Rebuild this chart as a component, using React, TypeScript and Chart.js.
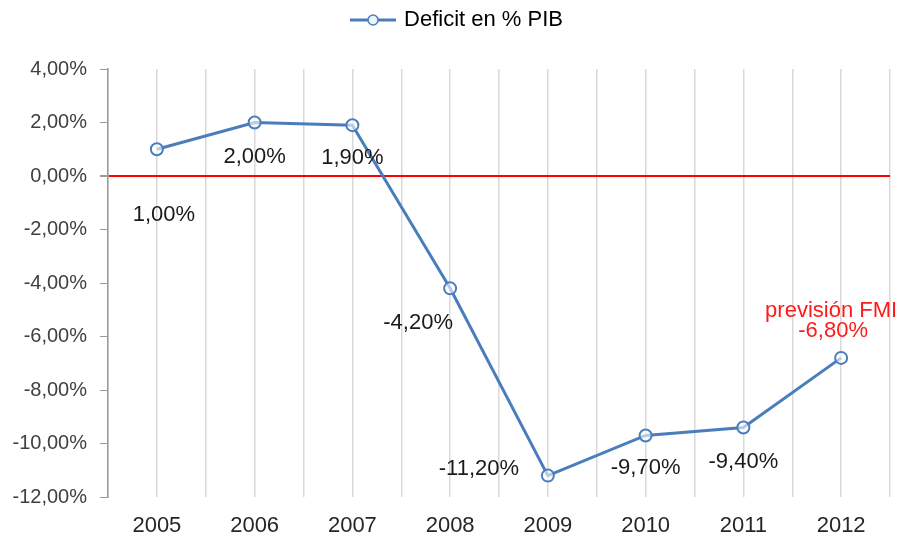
import React, { useEffect, useRef } from "react";
import { Chart, registerables } from "chart.js";

Chart.register(...registerables);

const categories = ["2005", "2006", "2007", "2008", "2009", "2010", "2011", "2012"];
const deficitValues = [1.0, 2.0, 1.9, -4.2, -11.2, -9.7, -9.4, -6.8];
const seriesLabel = "Deficit en % PIB";
const forecastNote = "previsión FMI";
const yMin = -12;
const yMax = 4;
const yStep = 2;

// label offsets (style, relative to each point)
const labelOffsets: [number, number][] = [
  [7, 66],
  [0, 34],
  [0, 33],
  [-32, 35],
  [-69, -7],
  [0, 32],
  [0, 34],
  [-8, -27],
];

const FONT = "'Liberation Sans', Arial, sans-serif";
const BLUE = "#4a7dbb";

const fmt = (v: number) => v.toFixed(2).replace(".", ",") + "%";

function makeLegendImage(): HTMLCanvasElement {
  const c = document.createElement("canvas");
  c.width = 46;
  c.height = 14;
  const ctx = c.getContext("2d")!;
  ctx.strokeStyle = BLUE;
  ctx.lineWidth = 3;
  ctx.beginPath();
  ctx.moveTo(0, 7);
  ctx.lineTo(46, 7);
  ctx.stroke();
  ctx.beginPath();
  ctx.arc(23, 7, 5, 0, Math.PI * 2);
  ctx.fillStyle = "#eef3fa";
  ctx.fill();
  ctx.lineWidth = 1.5;
  ctx.stroke();
  return c;
}

const legendGapPlugin = {
  id: "legendGap",
  beforeInit(chart: any) {
    const lg = chart.legend;
    if (!lg) return;
    const orig = lg.fit;
    lg.fit = function () {
      orig.call(this);
      this.height += 28;
    };
  },
  afterLayout(chart: any) {
    if (chart.legend) chart.legend.left += 26;
  },
};

const dataLabelPlugin = {
  id: "dataLabels",
  afterDatasetsDraw(chart: any) {
    const meta = chart.getDatasetMeta(0);
    const ctx = chart.ctx;
    ctx.save();
    ctx.font = `22px ${FONT}`;
    ctx.textAlign = "center";
    ctx.textBaseline = "middle";
    meta.data.forEach((pt: any, i: number) => {
      const [dx, dy] = labelOffsets[i];
      const last = i === deficitValues.length - 1;
      ctx.fillStyle = last ? "#ff1a1a" : "#1a1a1a";
      ctx.fillText(fmt(deficitValues[i]), pt.x + dx, pt.y + dy);
      if (last) {
        ctx.fillText(forecastNote, pt.x - 10, pt.y + dy - 20);
      }
    });
    ctx.restore();
  },
};

export default function App() {
  const ref = useRef<HTMLCanvasElement>(null);
  useEffect(() => {
    if (!ref.current) return;
    Chart.defaults.font.family = FONT;
    const legendImg = makeLegendImage();
    const chart = new Chart(ref.current, {
      type: "line",
      data: {
        labels: categories,
        datasets: [
          {
            label: seriesLabel,
            data: deficitValues,
            borderColor: BLUE,
            borderWidth: 3,
            pointRadius: 6,
            pointBorderWidth: 2,
            pointBackgroundColor: "rgba(255,255,255,0.6)",
            pointBorderColor: BLUE,
            tension: 0,
            pointStyle: "circle",
          },
        ],
      },
      options: {
        animation: false,
        responsive: false,
        layout: { padding: { top: 0, right: 10, bottom: 0, left: 0 } },
        plugins: {
          tooltip: { enabled: false },
          legend: {
            position: "top",
            labels: {
              usePointStyle: true,
              pointStyleWidth: 40,
              color: "#1a1a1a",
              font: { size: 22 },
              padding: 9,
              generateLabels: () => [
                {
                  text: seriesLabel,
                  pointStyle: legendImg as any,
                  fillStyle: BLUE,
                  strokeStyle: BLUE,
                  lineWidth: 0,
                  hidden: false,
                  datasetIndex: 0,
                },
              ],
            },
          },
        },
        scales: {
          x: {
            type: "category",
            offset: true,
            afterFit: (s: any) => {
              s.height = 42;
            },
            grid: { offset: false, color: "#d9d9d9", lineWidth: 1.5, drawTicks: false },
            border: { display: false },
            ticks: { color: "#262626", font: { size: 22 }, padding: 16 },
          },
          x2: {
            type: "category",
            position: "bottom",
            offset: true,
            afterFit: (s: any) => {
              s.height = 0;
            },
            grid: { offset: true, color: "#d9d9d9", lineWidth: 1.5, drawTicks: false },
            border: { display: false },
            ticks: { display: false },
          },
          y: {
            min: yMin,
            max: yMax,
            afterFit: (s: any) => {
              s.width = 108;
            },
            ticks: {
              stepSize: yStep,
              color: "#404040",
              font: { size: 20 },
              padding: 13,
              callback: (v: any) => fmt(Number(v)),
            },
            border: { display: true, color: "#9a9a9a", width: 1.5 },
            grid: {
              color: (c: any) => (c.tick && c.tick.value === 0 ? "#ff0000" : "rgba(0,0,0,0)"),
              lineWidth: (c: any) => (c.tick && c.tick.value === 0 ? 2 : 1),
              tickColor: "#9a9a9a",
              tickLength: 8,
              drawTicks: true,
            },
          },
        },
      },
      plugins: [legendGapPlugin, dataLabelPlugin],
    });
    return () => chart.destroy();
  }, []);
  return (
    <div style={{ position: "absolute", left: 0, top: 0, width: 900, height: 539, background: "#fff" }}>
      <canvas ref={ref} width={900} height={539} />
    </div>
  );
}
